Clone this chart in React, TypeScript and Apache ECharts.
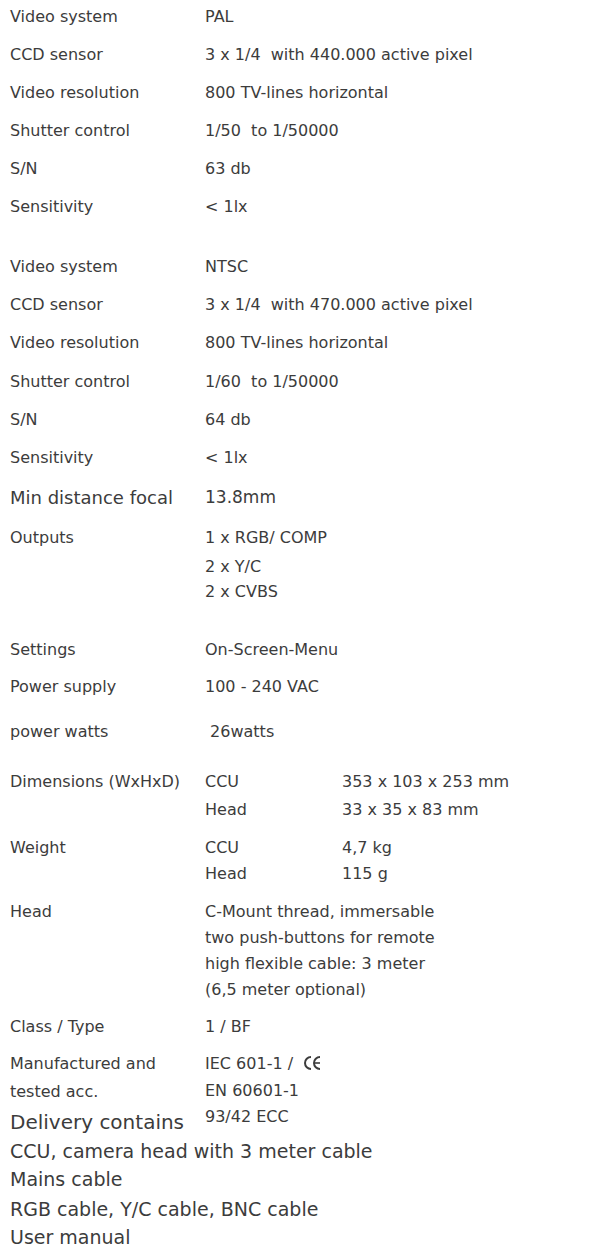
import React, { useEffect, useRef } from "react";
import * as echarts from "echarts";

// ---- content ----
const specLabels = [
  "Video system", "CCD sensor", "Video resolution", "Shutter control", "S/N", "Sensitivity",
  "Video system", "CCD sensor", "Video resolution", "Shutter control", "S/N", "Sensitivity",
  "Min distance focal", "Outputs", "Settings", "Power supply", "power watts",
  "Dimensions (WxHxD)", "Weight", "Head", "Class / Type", "Manufactured and", "tested acc.",
];
const specValues: string[][] = [
  ["PAL"],
  ["3 x 1/4  with 440.000 active pixel"],
  ["800 TV-lines horizontal"],
  ["1/50  to 1/50000"],
  ["63 db"],
  ["< 1lx"],
  ["NTSC"],
  ["3 x 1/4  with 470.000 active pixel"],
  ["800 TV-lines horizontal"],
  ["1/60  to 1/50000"],
  ["64 db"],
  ["< 1lx"],
  ["13.8mm"],
  ["1 x RGB/ COMP", "2 x Y/C", "2 x CVBS"],
  ["On-Screen-Menu"],
  ["100 - 240 VAC"],
  [" 26watts"],
  ["CCU", "Head"],
  ["CCU", "Head"],
  ["C-Mount thread, immersable", "two push-buttons for remote", "high flexible cable: 3 meter", "(6,5 meter optional)"],
  ["1 / BF"],
  ["IEC 601-1 / ", "EN 60601-1", "93/42 ECC"],
  [],
];
const thirdColumn: string[][] = [
  ["353 x 103 x 253 mm", "33 x 35 x 83 mm"],
  ["4,7 kg", "115 g"],
];
const deliveryTitle = "Delivery contains";
const deliveryItems = [
  "CCU, camera head with 3 meter cable",
  "Mains cable",
  "RGB cable, Y/C cable, BNC cable",
  "User manual",
];

// ---- layout (kept separate from content) ----
const labelY = [16, 54, 92, 130, 168, 206, 266, 304, 342, 381, 419, 457, 497, 537, 649, 686, 731, 781, 847, 911, 1026, 1063, 1091];
const labelSize = [16, 16, 16, 16, 16, 16, 16, 16, 16, 16, 16, 16, 18, 16, 16, 16, 16, 16, 16, 16, 16, 16, 16];
const valueSize = [16, 16, 16, 16, 16, 16, 16, 16, 16, 16, 16, 16, 17, 16, 16, 16, 16, 16, 16, 16, 16, 16, 16];
const valueLineY: number[][] = [
  [16], [54], [92], [130], [168], [206], [266], [304], [342], [381], [419], [457], [497],
  [537, 566, 591], [649], [686], [731], [781, 809], [847, 873], [911, 937, 963, 989], [1026],
  [1063, 1090, 1116], [],
];
const thirdY: number[][] = [[781, 809], [847, 873]];
const deliveryTitleY = 1122;
const deliveryY = [1151, 1179, 1209, 1237];

const LABEL_X = 10;
const VALUE_X = 205;
const THIRD_X = 342;
const FONT = "'DejaVu Sans', sans-serif";
const COLOR = "#3c3c3c";
const TITLE_SIZE = 20;
const ITEM_SIZE = 19;

function txt(x: number, y: number, s: string, size: number) {
  return {
    type: "text",
    x,
    y,
    style: {
      text: s,
      fill: COLOR,
      font: `${size}px ${FONT}`,
      textAlign: "left",
      textVerticalAlign: "middle",
    },
  };
}

export default function App() {
  const ref = useRef<HTMLDivElement>(null);
  useEffect(() => {
    document.body.style.margin = "0";
    const chart = echarts.init(ref.current!, null, { renderer: "svg" });
    const elements: any[] = [];
    specLabels.forEach((l, i) => elements.push(txt(LABEL_X, labelY[i], l, labelSize[i])));
    specValues.forEach((lines, i) =>
      lines.forEach((s, j) => elements.push(txt(VALUE_X, valueLineY[i][j], s, valueSize[i])))
    );
    thirdColumn.forEach((lines, i) =>
      lines.forEach((s, j) => elements.push(txt(THIRD_X, thirdY[i][j], s, 16)))
    );
    elements.push(txt(LABEL_X, deliveryTitleY, deliveryTitle, TITLE_SIZE));
    deliveryItems.forEach((s, i) => elements.push(txt(LABEL_X, deliveryY[i], s, ITEM_SIZE)));
    // CE mark
    const ceY = 1063;
    elements.push({
      type: "arc",
      shape: { cx: 311, cy: ceY, r: 6, startAngle: Math.PI / 2, endAngle: (3 * Math.PI) / 2 },
      style: { stroke: COLOR, lineWidth: 2, fill: "none" },
    });
    elements.push({
      type: "arc",
      shape: { cx: 320, cy: ceY, r: 6, startAngle: Math.PI / 2, endAngle: (3 * Math.PI) / 2 },
      style: { stroke: COLOR, lineWidth: 2, fill: "none" },
    });
    elements.push({
      type: "line",
      shape: { x1: 315, y1: ceY, x2: 320, y2: ceY },
      style: { stroke: COLOR, lineWidth: 1.6 },
    });
    chart.setOption({
      animation: false,
      backgroundColor: "#ffffff",
      graphic: { elements },
    });
    return () => chart.dispose();
  }, []);
  return <div ref={ref} style={{ width: 607, height: 1250 }} />;
}
